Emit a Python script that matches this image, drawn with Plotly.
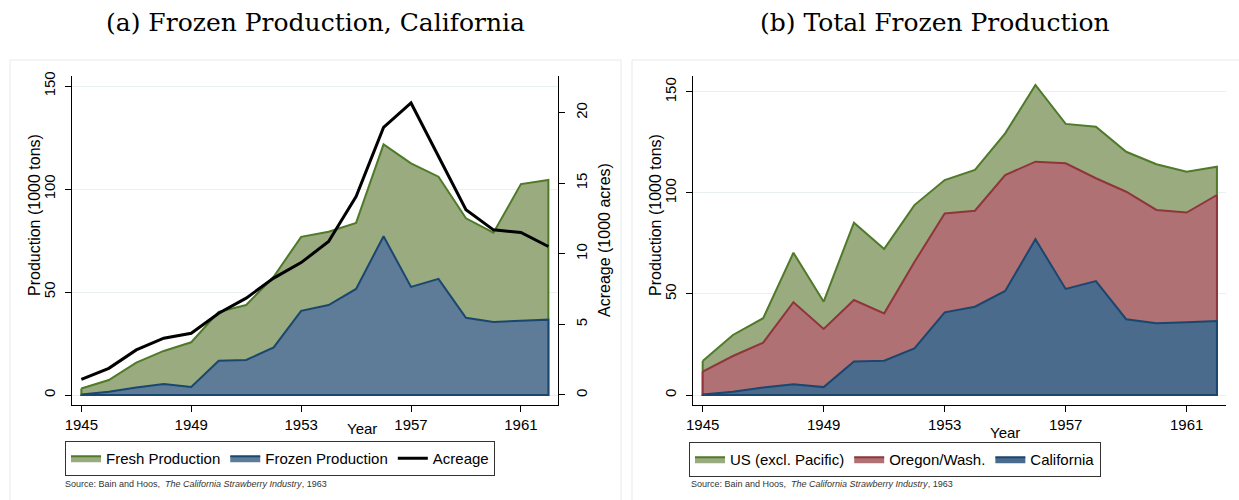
import plotly.graph_objects as go

W, H = 1239, 500

years = list(range(1945, 1963))

# panel (a)
frozen_ca = [0.3, 1.6, 3.7, 5.3, 3.9, 16.6, 17.0, 23.1, 40.9, 43.7, 51.5, 77.1,
             52.5, 56.4, 37.5, 35.5, 36.0, 36.6]
total_ca = [3.2, 7.3, 15.7, 21.4, 25.6, 40.4, 43.7, 57.4, 76.8, 79.3, 83.6, 121.7,
            112.5, 106.0, 85.8, 78.8, 102.4, 104.4]
acreage = [1.11, 1.89, 3.19, 4.02, 4.37, 5.79, 6.86, 8.28, 9.38, 10.87, 14.06, 18.96,
           20.69, 16.9, 13.12, 11.7, 11.51, 10.52]

# panel (b), cumulative tops
us_total = [16.8, 29.7, 38.0, 70.4, 46.2, 85.3, 72.3, 94.0, 106.4, 111.4, 129.5, 153.5,
            134.2, 132.8, 120.4, 114.2, 110.5, 113.0]
or_wash_top = [11.6, 19.3, 25.9, 45.9, 32.7, 47.0, 40.4, 65.8, 89.9, 91.2, 108.9, 115.5,
               114.7, 107.3, 100.6, 91.6, 90.3, 99.0]

xticks = [1945, 1949, 1953, 1957, 1961]

GREEN_F, GREEN_L = "#9aab80", "#4f7a28"
BLUE_F1, BLUE_F2, BLUE_L = "#5e7b98", "#4a6b8c", "#1a476f"
RED_F, RED_L = "#b07174", "#90353b"

SANS = "Liberation Sans, Arial, sans-serif"
SERIF = "DejaVu Serif, serif"


def px(v):
    return v / W


def py(v):
    return 1 - v / H


def area(vals, name, fill, line, xa, ya, legend):
    # closed polygon so the outline runs down both ends, like Stata
    xs = years + [years[-1], years[0], years[0]]
    ys = vals + [0, 0, vals[0]]
    return go.Scatter(x=xs, y=ys, fill="toself", fillcolor=fill, mode="lines",
                      line=dict(color=line, width=2), name=name,
                      xaxis=xa, yaxis=ya, legend=legend, hoverinfo="skip")


fig = go.Figure()
fig.add_trace(area(total_ca, "Fresh Production", GREEN_F, GREEN_L, "x", "y", "legend"))
fig.add_trace(area(frozen_ca, "Frozen Production", BLUE_F1, BLUE_L, "x", "y", "legend"))
fig.add_trace(go.Scatter(x=years, y=acreage, mode="lines", name="Acreage",
                         line=dict(color="black", width=3), xaxis="x", yaxis="y2",
                         legend="legend"))

fig.add_trace(area(us_total, "US (excl. Pacific)", GREEN_F, GREEN_L, "x2", "y3", "legend2"))
fig.add_trace(area(or_wash_top, "Oregon/Wash.", RED_F, RED_L, "x2", "y3", "legend2"))
fig.add_trace(area(frozen_ca, "California", BLUE_F2, BLUE_L, "x2", "y3", "legend2"))

tickfont = dict(family=SANS, size=15, color="black")
ydom = [py(405), py(76)]
grid = "#e8f0f1"

xcommon = dict(tickvals=xticks, ticks="outside", ticklen=6, tickcolor="black",
               showline=True, linecolor="black", linewidth=1, showgrid=False,
               zeroline=False, tickfont=tickfont)
ycommon = dict(ticks="outside", ticklen=6, tickcolor="black", tickangle=-90,
               showline=True, linecolor="black", linewidth=1, zeroline=False,
               tickfont=tickfont, ticklabelstandoff=4)

fig.update_layout(
    width=W, height=H,
    margin=dict(l=0, r=0, t=0, b=0, autoexpand=False),
    paper_bgcolor="white", plot_bgcolor="rgba(0,0,0,0)",
    xaxis=dict(domain=[px(72), px(558)], range=[1944.66, 1962.35], anchor="y", **xcommon),
    yaxis=dict(domain=ydom, range=[-4.85, 154.9], tickvals=[0, 50, 100, 150],
               showgrid=True, gridcolor=grid, anchor="x", **ycommon),
    yaxis2=dict(domain=ydom, range=[-0.71, 22.6], tickvals=[0, 5, 10, 15, 20],
                overlaying="y", side="right", showgrid=False, anchor="x", **ycommon),
    xaxis2=dict(domain=[px(693), px(1226)], range=[1944.68, 1962.3], anchor="y3", **xcommon),
    yaxis3=dict(domain=ydom, range=[-4.95, 157.9], tickvals=[0, 50, 100, 150],
                showgrid=True, gridcolor=grid, anchor="x2", **ycommon),
    legend=dict(x=px(65), y=py(441), xanchor="left", yanchor="top", orientation="h",
                bordercolor="#333333", borderwidth=1, bgcolor="white",
                font=dict(family=SANS, size=15, color="black")),
    legend2=dict(x=px(689), y=py(442), xanchor="left", yanchor="top", orientation="h",
                 bordercolor="#333333", borderwidth=1, bgcolor="white",
                 font=dict(family=SANS, size=15, color="black")),
    showlegend=True,
)

# panel frames
fig.add_shape(type="rect", xref="paper", yref="paper", x0=px(10), x1=px(621),
              y0=-0.05, y1=py(60), line=dict(color="#e3ebeb", width=1),
              fillcolor="white", layer="below")
fig.add_shape(type="rect", xref="paper", yref="paper", x0=px(632), x1=px(1245),
              y0=-0.05, y1=py(60), line=dict(color="#e3ebeb", width=1),
              fillcolor="white", layer="below")

ann = [
    dict(x=px(315), y=py(22), text="(a) Frozen Production, California",
         font=dict(family=SERIF, size=25, color="black")),
    dict(x=px(935), y=py(22), text="(b) Total Frozen Production",
         font=dict(family=SERIF, size=25, color="black")),
    dict(x=px(35), y=py(215), text="Production (1000 tons)", textangle=-90,
         font=dict(family=SANS, size=16, color="black")),
    dict(x=px(604), y=py(240), text="Acreage (1000 acres)", textangle=-90,
         font=dict(family=SANS, size=16, color="black")),
    dict(x=px(656), y=py(215), text="Production (1000 tons)", textangle=-90,
         font=dict(family=SANS, size=16, color="black")),
    dict(x=px(362), y=py(428), text="Year", font=dict(family=SANS, size=15, color="black")),
    dict(x=px(1005), y=py(432), text="Year", font=dict(family=SANS, size=15, color="black")),
    dict(x=px(63), y=py(484), xanchor="left",
         text="Source: Bain and Hoos,  <i>The California Strawberry Industry</i>, 1963",
         font=dict(family=SANS, size=9, color="#333333")),
    dict(x=px(689), y=py(484), xanchor="left",
         text="Source: Bain and Hoos,  <i>The California Strawberry Industry</i>, 1963",
         font=dict(family=SANS, size=9, color="#333333")),
]
for a in ann:
    a.setdefault("xanchor", "center")
    fig.add_annotation(xref="paper", yref="paper", yanchor="middle", showarrow=False, **a)

fig.write_html("out.html", config={"displayModeBar": False},
               post_script="document.body.style.margin='0';")
